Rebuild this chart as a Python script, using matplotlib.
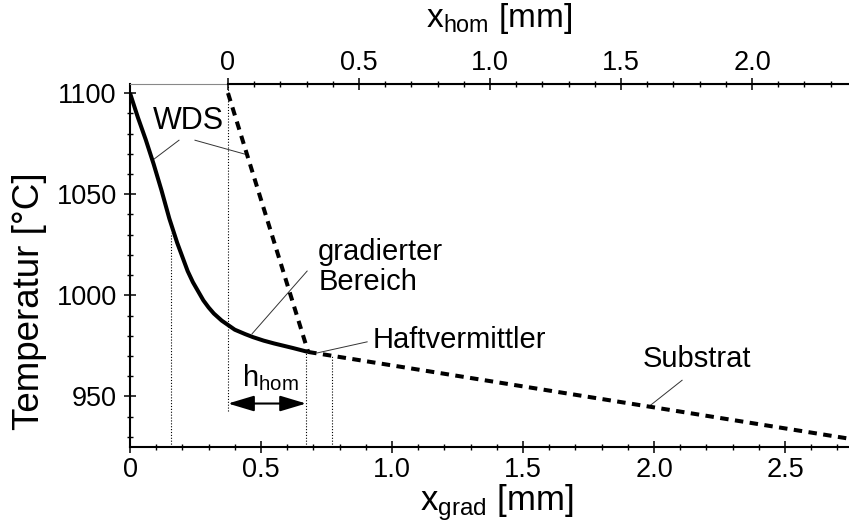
import numpy as np
import matplotlib

matplotlib.use("Agg")
import matplotlib.pyplot as plt
from matplotlib.ticker import FixedLocator

plt.rcParams["font.family"] = ["Liberation Sans", "DejaVu Sans"]
plt.rcParams["mathtext.fontset"] = "custom"
plt.rcParams["mathtext.rm"] = "Liberation Sans"
plt.rcParams["mathtext.it"] = "Liberation Sans:italic"

# graded region (WDS)
x_grad = [0, 0.03, 0.06, 0.09, 0.12, 0.15, 0.18, 0.20, 0.22, 0.24, 0.26, 0.28, 0.30,
          0.32, 0.35, 0.40, 0.44, 0.47, 0.51, 0.55, 0.62, 0.68]
t_grad = [1100, 1088, 1077, 1065, 1052, 1038, 1026, 1019, 1012, 1006.5, 1002, 997.5, 994,
          991, 987.5, 983, 980.8, 979.3, 977.6, 976.2, 974, 972]

# homogeneous WDS (dashed, steep) in x_grad coordinates
x_hom_line = [0.374, 0.68]
t_hom_line = [1100, 972]

# substrate
x_sub = [0.68, 2.76]
t_sub = [972, 928.8]

# dotted helper verticals: x, top, bottom
v_x = [0.157, 0.374, 0.672, 0.771]
v_top = [1031, 1104.5, 972, 970]
v_bot = [925, 943, 925, 925]

HOM_OFFSET = 0.374
XMAX = 2.744
YLIM = (925, 1104.5)
INK = "black"

fig = plt.figure(figsize=(8.49, 5.28), dpi=100)
ax = fig.add_axes([130 / 849, 1 - 447 / 528, 1 - 130 / 849, (447 - 84) / 528])
ax.set_xlim(0, XMAX)
ax.set_ylim(*YLIM)

ax.plot(x_grad, t_grad, color=INK, lw=2.9, solid_capstyle="butt",
        solid_joinstyle="round", zorder=3)
ax.plot(x_hom_line, t_hom_line, color=INK, lw=2.9, ls=(0, (2.1, 1.6)), zorder=3)
ax.plot(x_sub, t_sub, color=INK, lw=2.9, ls=(0, (2.1, 1.6)), zorder=3)

for x, t0, t1 in zip(v_x, v_top, v_bot):
    ax.plot([x, x], [t1, t0], color=INK, lw=0.8, ls=(0, (1, 1.6)), zorder=2)

# h_hom arrow
ax.annotate("", xy=(v_x[1], 946.5), xytext=(v_x[2], 946.5),
            arrowprops=dict(arrowstyle="<|-|>,head_length=0.8,head_width=0.24",
                            mutation_scale=20, color=INK, lw=1.5,
                            shrinkA=0, shrinkB=0))
ax.text(0.534, 959.4, r"h$_\mathrm{hom}$", fontsize=21, ha="center", va="center")

# labels with leader lines
leaders = [((0.187, 1076.7), (0.088, 1067)),
           ((0.248, 1076.7), (0.447, 1069.5)),
           ((0.676, 1012), (0.466, 981)),
           ((0.905, 977), (0.714, 971.5)),
           ((2.107, 958), (1.985, 945.5))]
for (xa, ya), (xb, yb) in leaders:
    ax.plot([xa, xb], [ya, yb], color="#333333", lw=0.7, zorder=2)

ax.text(0.222, 1086, "WDS", fontsize=22, ha="center", va="center")
ax.text(0.718, 1014, "gradierter\nBereich", fontsize=21, ha="left", va="center",
        linespacing=1.05)
ax.text(0.927, 978, "Haftvermittler", fontsize=21, ha="left", va="center")
ax.text(1.958, 968.3, "Substrat", fontsize=21, ha="left", va="center")

# axes styling
ax.spines["right"].set_visible(False)
ax.spines["top"].set_linewidth(0.8)
ax.spines["top"].set_color("#888888")
for s in ("left", "bottom"):
    ax.spines[s].set_linewidth(1.5)

ax.set_xticks([0, 0.5, 1.0, 1.5, 2.0, 2.5])
ax.set_xticklabels(["0", "0.5", "1.0", "1.5", "2.0", "2.5"])
ax.xaxis.set_minor_locator(FixedLocator(np.arange(0, 2.75, 0.1)))
ax.set_yticks([950, 1000, 1050, 1100])
ax.yaxis.set_minor_locator(FixedLocator(np.arange(930, 1101, 10)))
ax.tick_params(which="major", direction="inout", length=9, width=1.1, labelsize=19.5,
               pad=3)
ax.tick_params(which="minor", direction="inout", length=4.5, width=1.0)
ax.tick_params(axis="y", which="major", pad=5)
ax.tick_params(top=False, right=False, which="both")

# top axis: x_hom
ax2 = ax.twiny()
ax2.set_xlim(0 - HOM_OFFSET, XMAX - HOM_OFFSET)
for s in ("left", "right", "bottom"):
    ax2.spines[s].set_visible(False)
ax2.spines["top"].set_bounds(0, XMAX - HOM_OFFSET)
ax2.spines["top"].set_linewidth(1.5)
ax2.set_xticks([0, 0.5, 1.0, 1.5, 2.0])
ax2.set_xticklabels(["0", "0.5", "1.0", "1.5", "2.0"])
ax2.xaxis.set_minor_locator(FixedLocator(np.arange(0, 2.35, 0.1)))
ax2.tick_params(which="major", direction="inout", length=9, width=1.1, labelsize=19.5,
                pad=1)
ax2.tick_params(which="minor", direction="inout", length=4.5, width=1.0)

# axis titles placed in figure pixels as in the scan
fig.text(497 / 849, 1 - 503 / 528, r"x$_\mathrm{grad}$ [mm]", fontsize=25,
         ha="center", va="center")
fig.text(499 / 849, 1 - 19 / 528, r"x$_\mathrm{hom}$ [mm]", fontsize=24,
         ha="center", va="center")
fig.text(30 / 849, 1 - 301 / 528, "Temperatur [°C]", fontsize=26.5,
         rotation=90, ha="center", va="center")

fig.savefig("out.png", dpi=100, facecolor="white")
